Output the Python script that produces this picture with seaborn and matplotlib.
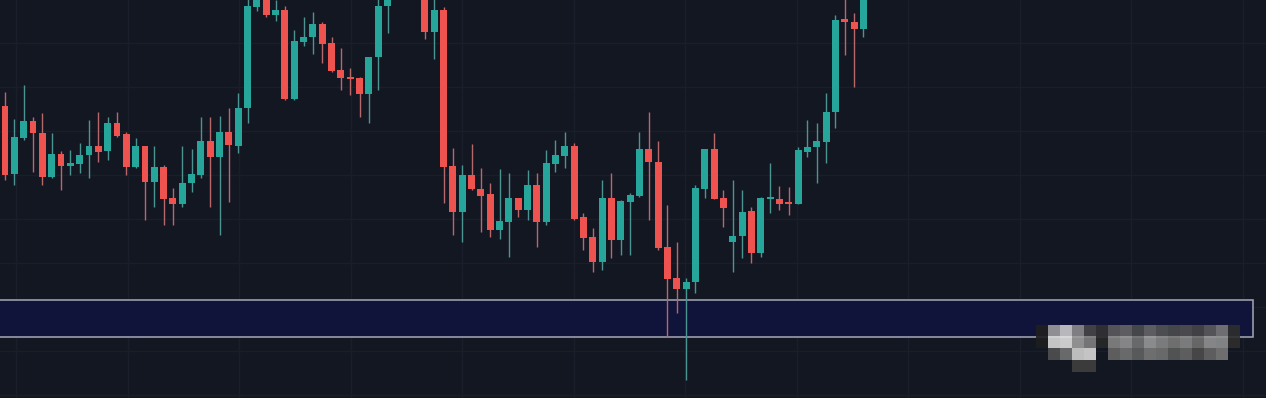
import numpy as np
import pandas as pd
import matplotlib
matplotlib.use("Agg")
import matplotlib.pyplot as plt
from matplotlib.patches import Rectangle
import seaborn as sns

# ---------------- data (price units) ----------------
opens = [294, 226, 262, 279, 267, 223, 246, 234, 236, 245,
         254, 249, 277, 266, 233, 254, 218, 233, 202, 196,
         217, 225, 259, 243, 268, 254, 292, 393, 420, 385,
         390, 301, 358, 363, 376, 357, 330, 323, 322, 306,
         343, 394, 420, 440, 428, 415, 368, 390, 234, 188,
         225, 211, 206, 170, 178, 202, 190, 215, 178, 236,
         244, 254, 183, 163, 138, 202, 160, 198, 204, 251,
         238, 153, 122, 111, 118, 211, 251, 202, 158, 164,
         189, 147, 201, 201, 198, 196, 248, 253, 258, 288,
         381, 378, 371]
closes = [225, 263, 279, 267, 223, 246, 234, 237, 245, 254,
          248, 277, 264, 233, 254, 218, 233, 201, 196, 217,
          226, 259, 243, 268, 255, 292, 394, 415, 385, 390,
          301, 359, 363, 376, 356, 329, 322, 321, 306, 343,
          394, 420, 440, 428, 445, 368, 390, 233, 188, 225,
          211, 204, 170, 179, 202, 190, 215, 178, 237, 245,
          254, 181, 162, 138, 202, 160, 199, 205, 251, 238,
          152, 121, 111, 118, 212, 251, 201, 192, 164, 188,
          147, 202, 202, 196, 196, 250, 253, 259, 288, 380,
          378, 371, 410]
highs = [308, 281, 315, 283, 287, 267, 249, 250, 257, 280,
         288, 283, 288, 268, 262, 254, 254, 235, 212, 254,
         251, 283, 283, 284, 292, 307, 402, 425, 425, 400,
         394, 370, 383, 388, 378, 363, 352, 332, 323, 343,
         405, 430, 450, 448, 452, 420, 410, 393, 252, 235,
         256, 232, 217, 231, 227, 202, 230, 227, 250, 260,
         268, 257, 187, 172, 220, 227, 200, 207, 268, 288,
         259, 195, 158, 122, 215, 251, 267, 210, 220, 210,
         193, 203, 237, 214, 213, 253, 280, 277, 307, 385,
         405, 387, 420]
lows = [220, 215, 260, 228, 215, 222, 210, 225, 227, 222,
        238, 240, 263, 225, 232, 180, 193, 175, 175, 193,
        208, 222, 193, 165, 198, 247, 277, 389, 383, 379,
        300, 300, 354, 346, 337, 328, 310, 305, 283, 277,
        310, 367, 412, 420, 410, 361, 341, 197, 165, 158,
        210, 168, 163, 161, 143, 183, 180, 153, 175, 228,
        232, 180, 150, 128, 130, 142, 145, 145, 203, 180,
        150, 63, 87, 20, 107, 202, 201, 173, 128, 142,
        137, 143, 187, 190, 185, 196, 243, 217, 237, 272,
        345, 313, 363]

# zone (price band) drawn as a box
zone_low, zone_high = 63, 100

# blurred watermark mosaic (gray levels)
nan = np.nan
watermark = np.array([
    [nan, nan, 0.13, 0.62, 0.80, 0.55, 0.28, 0.20, 0.36, 0.40, 0.30, 0.40, 0.33, 0.30, 0.32, 0.28, 0.36, 0.48, 0.18],
    [nan, nan, 0.12, 0.85, 0.88, 0.62, 0.50, 0.16, 0.52, 0.58, 0.45, 0.60, 0.53, 0.48, 0.53, 0.44, 0.58, 0.56, 0.18],
    [nan, nan, nan, 0.32, 0.45, 0.82, 0.85, nan, 0.40, 0.45, 0.38, 0.48, 0.45, 0.35, 0.40, 0.30, 0.40, 0.48, nan],
    [nan, nan, nan, nan, nan, 0.25, 0.25, nan, nan, nan, nan, nan, nan, nan, nan, nan, nan, nan, nan],
])

df = pd.DataFrame({"open": opens, "high": highs, "low": lows, "close": closes})
df["idx"] = np.arange(len(df))

# ---------------- style ----------------
BG = "#131722"
GRID = "#1a1e2b"
UP = "#26a69a"
DOWN = "#ef5350"
UP_WICK = "#4c9491"
DOWN_WICK = "#b8676a"

sns.set_theme(style="dark", rc={
    "axes.facecolor": BG, "figure.facecolor": BG,
    "grid.color": GRID, "axes.edgecolor": BG,
})

fig = plt.figure(figsize=(12.66, 3.98), dpi=100)
ax = fig.add_axes([0, 0, 1, 1])
ax.set_facecolor(BG)

up = df["close"] >= df["open"]
body_bottom = np.minimum(df["open"], df["close"])
body_height = np.maximum((df["close"] - df["open"]).abs(), 1.6)

# zone
ax.add_patch(Rectangle((-5, zone_low), 133.8 + 5, zone_high - zone_low,
                       facecolor="#11143a", edgecolor="#9a9dab", linewidth=1.2, zorder=1.5))

# wicks
ax.vlines(df["idx"], df["low"], df["high"],
          colors=np.where(up, UP_WICK, DOWN_WICK), linewidth=1.0, zorder=2)
# bodies
ax.bar(df["idx"], body_height, bottom=body_bottom, width=0.74,
       color=np.where(up, UP, DOWN), linewidth=0, zorder=3)

ax.set_xlim(-0.536, 135.15)
ax.set_ylim(2, 400)
ax.set_xticks(np.arange(1.2, 136, 11.95))
ax.set_yticks(np.arange(5, 400, 44))
ax.grid(True, color=GRID, linewidth=1.0)
ax.tick_params(length=0, labelbottom=False, labelleft=False)
for s in ax.spines.values():
    s.set_visible(False)

# watermark overlay
wax = fig.add_axes([1012 / 1266, 1 - 372 / 398, 228 / 1266, 47 / 398])
wax.imshow(watermark, cmap="gray", vmin=0, vmax=1, aspect="auto",
           interpolation="nearest", alpha=0.9)
wax.axis("off")

fig.savefig("out.png", dpi=100, facecolor=BG)
